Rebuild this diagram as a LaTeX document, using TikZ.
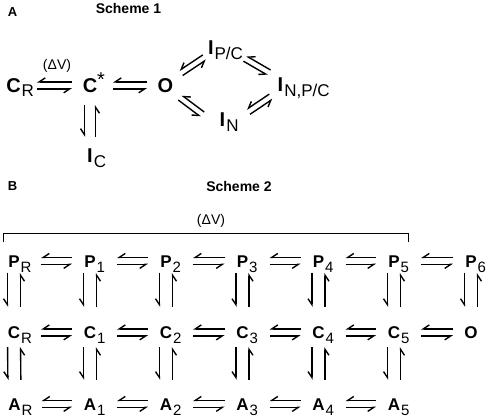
\documentclass[tikz,border=0pt]{standalone}
\usepackage{fontspec}
\setmainfont{Liberation Sans}
\usetikzlibrary{arrows.meta,calc}

\newcommand{\idx}[1]{\rlap{\kern1pt\raisebox{-5pt}{\mdseries\fontsize{15}{15}\selectfont #1}}}
\newcommand{\idxb}[1]{\rlap{\kern1pt\raisebox{-4.5pt}{\mdseries\fontsize{17}{17}\selectfont #1}}}
% two opposite half arrows: from, to, gap at start, gap at end, half spacing
\newcommand{\eqpair}[5]{%
  \draw[hp] ($($(#1)!#3!(#2)$)!#5!-90:(#2)$) -- ($($(#2)!#4!(#1)$)!#5!90:(#1)$);
  \draw[hp] ($($(#2)!#4!(#1)$)!#5!-90:(#1)$) -- ($($(#1)!#3!(#2)$)!#5!90:(#2)$);
}

\begin{document}
\begin{tikzpicture}[x=1pt, y=-1pt,
species/.style={font=\bfseries\fontsize{17}{17}\selectfont, inner sep=0pt, text height=12.2pt, text depth=0pt, anchor=base},
bigspecies/.style={species, font=\bfseries\fontsize{20}{20}\selectfont, text height=14.3pt},
hp/.style={line width=1.4pt, line cap=butt, -{Straight Barb[harpoon,swap,length=6pt,width=8pt]}},
title/.style={font=\bfseries\fontsize{14}{14}\selectfont, inner sep=0pt, anchor=base},
panel/.style={font=\bfseries\fontsize{13}{13}\selectfont, inner sep=0pt, anchor=base},
volt/.style={font=\fontsize{14}{14}\selectfont, inner sep=0pt, anchor=base}
]
\useasboundingbox (0,0) rectangle (490,417);

% Scheme 1
\node[panel] (labA) at (12.5,17) {A};
\node[title] (sch1) at (128.5,14) {Scheme 1};
\node[bigspecies] (CR) at (13.5,92.5) {C\idxb{R}};
\node[bigspecies] (Cs) at (90,92.5) {C\rlap{\raisebox{6pt}{\mdseries *}}};
\node[bigspecies] (O1) at (165.5,92.5) {O};
\node[bigspecies] (IC) at (90,163) {I\idxb{C}};
\node[bigspecies] (IPC) at (210.8,55) {I\idxb{P/C}};
\node[bigspecies] (INPC) at (280.5,92) {I\idxb{N,P/C}};
\node[bigspecies] (IN) at (222.5,127) {I\idxb{N}};
\node[volt] (dv1) at (57,69.5) {(ΔV)};

\eqpair{CR.center}{Cs.center}{23.5pt}{18pt}{3.5pt}
\eqpair{Cs.center}{O1.center}{23pt}{18.5pt}{3.5pt}
\eqpair{Cs.center}{IC.center}{19.6pt}{18.9pt}{5.5pt}
\eqpair{O1.north east}{IPC.south west}{9pt}{4pt}{3pt}
\eqpair{O1.south east}{IN.south west}{8.2pt}{21.3pt}{3pt}
\eqpair{IPC.north east}{INPC.north west}{36pt}{9.8pt}{3pt}
\eqpair{IN.south east}{INPC.south west}{27.6pt}{7.9pt}{3pt}

% Scheme 2
\node[panel] (labB) at (12.5,190) {B};
\node[title] (sch2) at (239,191) {Scheme 2};
\node[volt] (dv2) at (211,224) {(ΔV)};
\draw[line width=0.9pt] (3.5,242) |- (408,233.5) -- (408,242);

\node[species] (PR) at (14,267) {P\idx{R}};
\node[species] (P1) at (90,267) {P\idx{1}};
\node[species] (P2) at (166,267) {P\idx{2}};
\node[species] (P3) at (242.5,267) {P\idx{3}};
\node[species] (P4) at (318.5,267) {P\idx{4}};
\node[species] (P5) at (394,267) {P\idx{5}};
\node[species] (P6) at (471,267) {P\idx{6}};
\node[species] (CR2) at (14,338.5) {C\idx{R}};
\node[species] (C1) at (90,338.5) {C\idx{1}};
\node[species] (C2) at (166,338.5) {C\idx{2}};
\node[species] (C3) at (242.5,338.5) {C\idx{3}};
\node[species] (C4) at (318.5,338.5) {C\idx{4}};
\node[species] (C5) at (394,338.5) {C\idx{5}};
\node[species] (O2) at (471,338.5) {O};
\node[species] (AR) at (14.5,410) {A\idx{R}};
\node[species] (A1) at (90,410) {A\idx{1}};
\node[species] (A2) at (166,410) {A\idx{2}};
\node[species] (A3) at (242.5,410) {A\idx{3}};
\node[species] (A4) at (318.5,410) {A\idx{4}};
\node[species] (A5) at (394,410) {A\idx{5}};

\foreach \a/\b in {PR/P1, P1/P2, P2/P3, P3/P4, P4/P5, P5/P6,
                   CR2/C1, C1/C2, C2/C3, C3/C4, C4/C5, C5/O2,
                   AR/A1, A1/A2, A2/A3, A3/A4, A4/A5}
  {\eqpair{\a.center}{\b.center}{27pt}{18pt}{3.5pt}}
\foreach \a/\b in {PR/CR2, P1/C1, P2/C2, P3/C3, P4/C4, P5/C5, P6/O2}
  {\eqpair{\a.center}{\b.center}{12pt}{25.4pt}{6.5pt}}
\foreach \a/\b in {CR2/AR, C1/A1, C2/A2, C3/A3, C4/A4, C5/A5}
  {\eqpair{\a.center}{\b.center}{14.6pt}{24pt}{6.5pt}}
\end{tikzpicture}
\end{document}
